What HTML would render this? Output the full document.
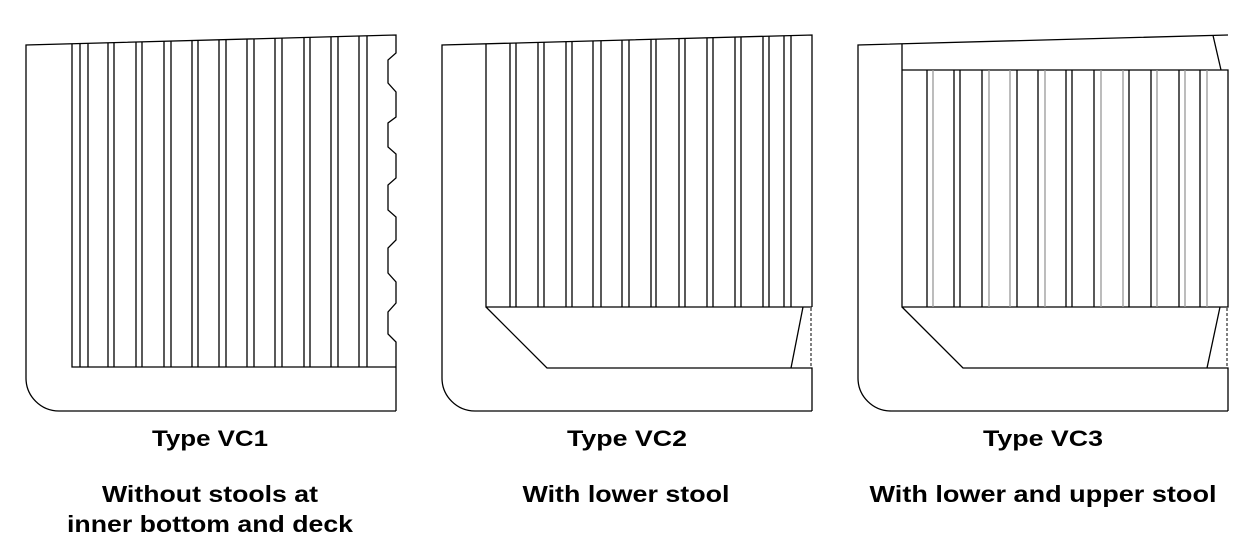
<!DOCTYPE html>
<html><head><meta charset="utf-8"><style>
html,body{margin:0;padding:0;background:#fff;}
svg{display:block;}
text{font-family:"Liberation Sans",Arial,sans-serif;font-weight:bold;fill:#000;}
</style></head><body>
<svg width="1257" height="548" viewBox="0 0 1257 548" xmlns="http://www.w3.org/2000/svg">
<g fill="none" stroke="#000" stroke-width="1.3">
<!-- VC1 -->
<path d="M396,411 L59,411 A33,33 0 0 1 26,378 L26,45 L396,35 L396,53 L388,60 L388,83 L396,92 L396,117 L388,123 L388,147 L396,154 L396,178 L388,185 L388,210 L396,217 L396,240 L388,248 L388,273 L396,282 L396,303 L388,312 L388,334 L396,342 L396,411"/>
<path d="M72,43.8 L72,367 L396,367"/>
<path d="M80,43.6V367M88,43.4V367M108,42.9V367M114,42.7V367M136,42.1V367M142,42V367M164,41.2V367M171,41V367M192,40.5V367M198,40.3V367M219,39.8V367M226,39.6V367M247,39V367M254,38.8V367M275,38.3V367M282,38.1V367M304,37.5V367M310,37.3V367M331,36.8V367M338,36.6V367M359,36V367M367,35.8V367"/>
<!-- VC2 -->
<path d="M812,411 L475,411 A33,33 0 0 1 442,378 L442,45 L812,35 L812,307"/>
<path d="M486,43.8 L486,307 L812,307 M486,307 L547,368 L812,368 L812,411 M803,307 L791,368"/>
<path d="M811,308 L811,368" stroke-dasharray="3,2" stroke-width="1"/>
<path d="M510,43.2V307M516,43V307M538,42.4V307M544,42.3V307M566,41.6V307M572,41.5V307M593,40.9V307M601,40.7V307M622,40.1V307M629,39.9V307M651,39.3V307M656,39.2V307M679,38.6V307M685,38.4V307M707,37.8V307M713,37.7V307M735,37.1V307M741,36.9V307M763,36.3V307M769,36.2V307M784,35.8V307M791,35.6V307"/>
<!-- VC3 -->
<path d="M1228,411 L891,411 A33,33 0 0 1 858,378 L858,45 L1228,35"/>
<path d="M902,43.8 L902,307 L1228,307 L1228,70 L902,70 M1213,35.4 L1221,70 M902,307 L963,368 L1228,368 L1228,411 M1220,307 L1207,368"/>
<path d="M1227,308 L1227,368" stroke-dasharray="3,2" stroke-width="1"/>
<path d="M927,70V307M954,70V307M960,70V307M982,70V307M1017,70V307M1038,70V307M1066,70V307M1072,70V307M1094,70V307M1129,70V307M1151,70V307M1179,70V307M1200,70V307"/>
<path stroke="#999" d="M933,70V307M989,70V307M1010,70V307M1045,70V307M1101,70V307M1123,70V307M1157,70V307M1185,70V307M1207,70V307"/>
</g>
<g font-size="22" text-anchor="middle">
<text x="210" y="446" textLength="116" lengthAdjust="spacingAndGlyphs">Type VC1</text>
<text x="627" y="446" textLength="120" lengthAdjust="spacingAndGlyphs">Type VC2</text>
<text x="1043" y="446" textLength="120" lengthAdjust="spacingAndGlyphs">Type VC3</text>
</g>
<g font-size="23" text-anchor="middle">
<text x="210" y="502" textLength="216" lengthAdjust="spacingAndGlyphs">Without stools at</text>
<text x="210" y="532" textLength="286" lengthAdjust="spacingAndGlyphs">inner bottom and deck</text>
<text x="626" y="502" textLength="207" lengthAdjust="spacingAndGlyphs">With lower stool</text>
<text x="1043" y="502" textLength="347" lengthAdjust="spacingAndGlyphs">With lower and upper stool</text>
</g>
</svg>
</body></html>
